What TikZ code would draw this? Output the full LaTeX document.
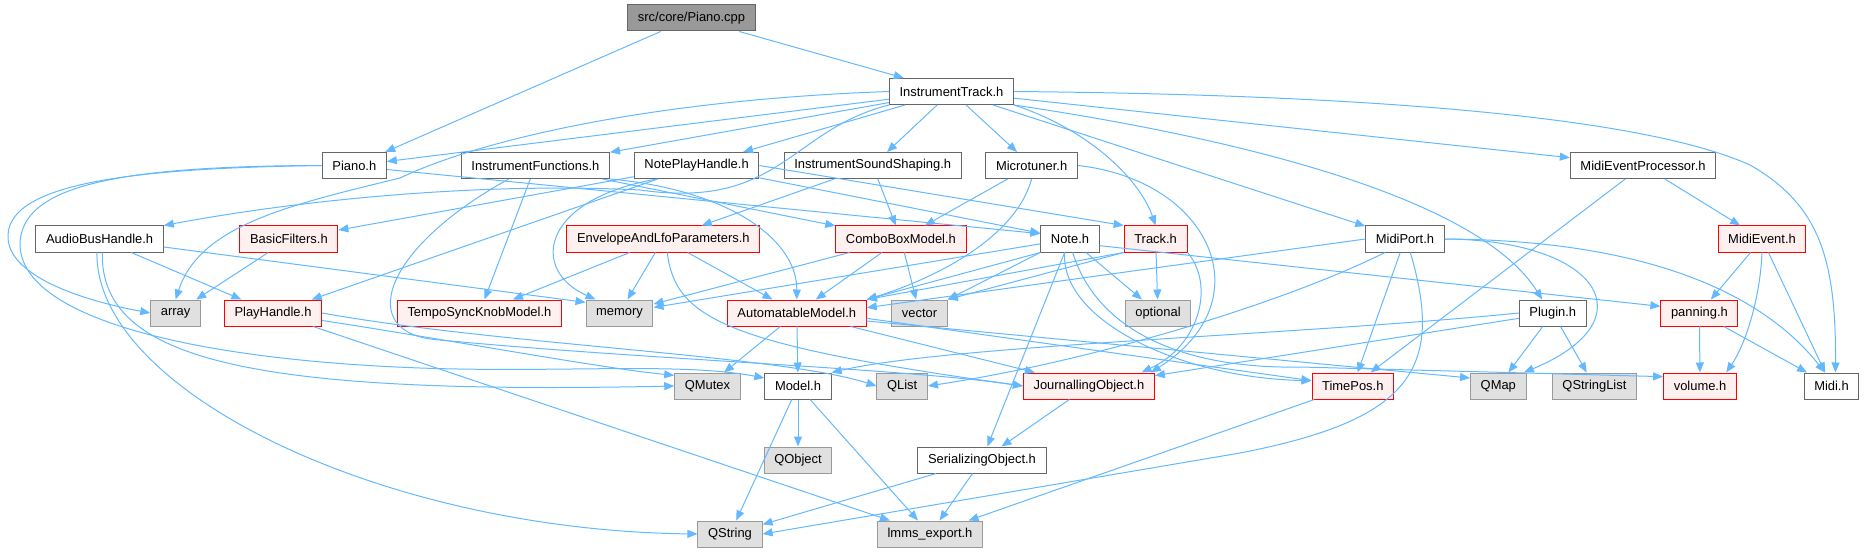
\documentclass[tikz,border=0pt]{standalone}
\usepackage{fontspec}
\setmainfont{Liberation Sans}
\usepackage{tikz}
\usetikzlibrary{arrows.meta}
\definecolor{edgeblue}{HTML}{63B8FF}
\definecolor{boxgray}{HTML}{666666}
\definecolor{sysfill}{HTML}{E0E0E0}
\definecolor{sysdraw}{HTML}{999999}
\definecolor{redfill}{HTML}{FFF0F0}
\definecolor{rootfill}{HTML}{999999}

\begin{document}
\begin{tikzpicture}[
    x=0.75pt, y=-0.75pt,
    font=\fontsize{9.7pt}{11pt}\selectfont,
    hnode/.style={draw=boxgray, fill=white, line width=0.75pt, minimum height=19.5pt, inner xsep=7.6pt, inner ysep=0pt},
    rnode/.style={hnode, draw=red, fill=redfill},
    snode/.style={hnode, draw=sysdraw, fill=sysfill},
    rootnode/.style={hnode, fill=rootfill},
    dep/.style={draw=edgeblue, line width=0.75pt, -{Triangle[length=7.5pt, width=6pt]}}
]
\useasboundingbox (0,0) rectangle (1865,552);

\node[rootnode] (cpp) at (691.5, 18) {src/core/Piano.cpp};
\node[hnode] (itrack) at (951.5, 91.5) {InstrumentTrack.h};
\node[hnode] (pianoh) at (354.3, 165.5) {Piano.h};
\node[hnode] (ifunc) at (535.4, 165.5) {InstrumentFunctions.h};
\node[hnode] (nph) at (696.6, 165.5) {NotePlayHandle.h};
\node[hnode] (iss) at (872.7, 165.5) {InstrumentSoundShaping.h};
\node[hnode] (micro) at (1031.6, 165.5) {Microtuner.h};
\node[hnode] (mep) at (1643, 165.5) {MidiEventProcessor.h};
\node[hnode] (abh) at (99.6, 239) {AudioBusHandle.h};
\node[rnode] (bfilt) at (288.9, 239) {BasicFilters.h};
\node[rnode] (envlfo) at (663.3, 239) {EnvelopeAndLfoParameters.h};
\node[rnode] (combo) at (900.9, 239) {ComboBoxModel.h};
\node[hnode] (note) at (1070, 239) {Note.h};
\node[rnode] (track) at (1155.6, 239) {Track.h};
\node[hnode] (mport) at (1405, 239) {MidiPort.h};
\node[rnode] (mevent) at (1762, 239) {MidiEvent.h};
\node[snode] (array) at (175.6, 313) {array};
\node[rnode] (playh) at (273, 313) {PlayHandle.h};
\node[rnode] (tsknob) at (479.4, 313) {TempoSyncKnobModel.h};
\node[snode] (memory) at (619.5, 313) {memory};
\node[rnode] (automod) at (796.8, 313) {AutomatableModel.h};
\node[snode] (vector) at (919.5, 313) {vector};
\node[snode] (optional) at (1158, 313) {optional};
\node[hnode] (plugin) at (1552.8, 313) {Plugin.h};
\node[rnode] (panning) at (1699.4, 313) {panning.h};
\node[snode] (qmutex) at (707.5, 386) {QMutex};
\node[hnode] (model) at (798, 386) {Model.h};
\node[snode] (qlist) at (902.2, 386) {QList};
\node[rnode] (jobj) at (1088.9, 386) {JournallingObject.h};
\node[rnode] (timepos) at (1352.8, 386) {TimePos.h};
\node[snode] (qmap) at (1498.3, 386) {QMap};
\node[snode] (qslist) at (1594.4, 386) {QStringList};
\node[rnode] (volume) at (1700, 386) {volume.h};
\node[hnode] (midi) at (1831.5, 386) {Midi.h};
\node[snode] (qobject) at (798, 460) {QObject};
\node[hnode] (sobj) at (982, 460) {SerializingObject.h};
\node[snode] (qstring) at (730, 534) {QString};
\node[snode] (lmmsexp) at (930, 534) {lmms\_export.h};

\draw[dep] (cpp) -- (pianoh);
\draw[dep] (cpp) -- (itrack);

\draw[dep] (itrack) -- (pianoh);
\draw[dep] (itrack) -- (ifunc);
\draw[dep] (itrack) -- (nph);
\draw[dep] (itrack) -- (iss);
\draw[dep] (itrack) -- (micro);
\draw[dep] (itrack.south east) .. controls (1090,130) and (1140,180) .. (track.north);
\draw[dep] (itrack) -- (mport);
\draw[dep] (itrack) -- (mep);
\draw[dep] (itrack.south east) .. controls (1250,140) and (1480,200) .. ([xshift=-8pt]plugin.north);
\draw[dep] (itrack.east) .. controls (1400,95) and (1650,120) .. (1750,165) .. controls (1820,205) and (1836,260) .. ([xshift=3pt]midi.north);
\draw[dep] (itrack.south west) .. controls (790,130) and (780,210) .. (640,190) .. controls (480,182) and (300,200) .. (abh.north east);
\draw[dep] (itrack.west) .. controls (650,100) and (480,140) .. (400,178) .. controls (290,205) and (200,225) .. (array.north);

\draw[dep] (pianoh.west) .. controls (150,168) and (10,180) .. (8,235) .. controls (6,275) and (80,300) .. (array.west);
\draw[dep] (pianoh.west) .. controls (120,166) and (20,185) .. (20,245) .. controls (22,320) and (200,360) .. (420,368) .. controls (560,373) and (680,362) .. ([yshift=6pt]model.west);
\draw[dep] ([yshift=-3pt]pianoh.east) -- ([yshift=4pt]note.west);

\draw[dep] (ifunc) -- (tsknob);
\draw[dep] (ifunc) -- (combo);
\draw[dep] (ifunc.south east) .. controls (730,190) and (797,240) .. (automod.north);
\draw[dep] ([xshift=-20pt]ifunc.south) .. controls (380,250) and (355,335) .. (440,340) .. controls (650,360) and (900,368) .. (jobj.west);

\draw[dep] (nph) -- (bfilt);
\draw[dep] (nph) -- (playh);
\draw[dep] ([xshift=-30pt]nph.south) .. controls (540,200) and (530,270) .. ([xshift=-18pt]memory.north);
\draw[dep] (nph) -- (note);
\draw[dep] (nph.east) -- (track.north west);

\draw[dep] (iss) -- (envlfo);
\draw[dep] (iss) -- (combo);

\draw[dep] (micro) -- (combo);
\draw[dep] (micro.south) .. controls (1015,240) and (930,280) .. (automod.north east);
\draw[dep] (micro.east) .. controls (1210,180) and (1265,300) .. ([xshift=-3pt]jobj.north east);

\draw[dep] (mep) -- (mevent);
\draw[dep] (mep) -- (timepos);

\draw[dep] (abh) -- (playh);
\draw[dep] ([yshift=-6pt]abh.east) -- ([yshift=8pt]memory.west);
\draw[dep] ([xshift=2pt]abh.south) .. controls (100,360) and (250,395) .. (qmutex.west);
\draw[dep] ([xshift=-2pt]abh.south) .. controls (95,390) and (380,530) .. (qstring.west);

\draw[dep] (bfilt) -- (array);

\draw[dep] (envlfo) -- (tsknob);
\draw[dep] (envlfo) -- (memory);
\draw[dep] (envlfo) -- (automod);
\draw[dep] ([xshift=3pt]envlfo.south) .. controls (675,320) and (730,345) .. (jobj.west);

\draw[dep] (combo) -- (automod);
\draw[dep] (combo) -- (vector);
\draw[dep] (combo) -- (memory);

\draw[dep] (note) -- (memory);
\draw[dep] (note.south west) -- (automod.north east);
\draw[dep] (note.south west) -- (vector.north east);
\draw[dep] (note) -- (optional);
\draw[dep] (note) -- (sobj);
\draw[dep] ([xshift=-4pt]note.south) .. controls (1060,320) and (1180,378) .. ([yshift=4pt]timepos.west);
\draw[dep] ([xshift=2pt]note.south) .. controls (1100,340) and (1200,369) .. (1300,367) -- ([yshift=7pt]volume.west);
\draw[dep] ([yshift=-5pt]note.east) -- ([yshift=5pt]panning.west);

\draw[dep] (track.south west) -- (automod.north east);
\draw[dep] (track.south west) -- (vector.north east);
\draw[dep] (track) -- (optional);
\draw[dep] (track.south east) .. controls (1215,285) and (1200,345) .. ([xshift=-10pt]jobj.north east);

\draw[dep] (mport.west) -- ([yshift=4pt]automod.east);
\draw[dep] ([xshift=-15pt]mport.south) .. controls (1290,300) and (1100,360) .. (qlist.east);
\draw[dep] (mport) -- (timepos);
\draw[dep] ([xshift=4pt]mport.south) .. controls (1445,370) and (1410,420) .. (1240,453) -- (qstring.east);
\draw[dep] (mport.east) .. controls (1600,240) and (1650,320) .. ([xshift=-2pt]qmap.north east);
\draw[dep] (mport.east) .. controls (1640,240) and (1760,290) .. ([xshift=-5pt]midi.north);

\draw[dep] (mevent) -- (panning);
\draw[dep] (mevent.south) .. controls (1760,300) and (1745,345) .. ([xshift=-8pt]volume.north east);
\draw[dep] (mevent) -- (midi);

\draw[dep] (playh) .. controls (450,340) and (600,368) .. ([yshift=8pt]qmutex.west);
\draw[dep] (playh.east) .. controls (500,345) and (780,355) .. (qlist.west);
\draw[dep] (playh) -- (lmmsexp);

\draw[dep] (automod) -- (qmutex);
\draw[dep] (automod) -- (model);
\draw[dep] (automod) -- (jobj);
\draw[dep] ([yshift=-4pt]automod.east) -- ([yshift=4pt]timepos.west);
\draw[dep] ([yshift=-6pt]automod.east) -- ([yshift=6pt]qmap.west);

\draw[dep] (plugin.west) .. controls (1300,335) and (950,345) .. (model.north east);
\draw[dep] (plugin) -- (jobj);
\draw[dep] (plugin) -- (qmap);
\draw[dep] (plugin) -- (qslist);

\draw[dep] (panning) -- (volume);
\draw[dep] (panning) -- (midi);

\draw[dep] (model) -- (qobject);
\draw[dep] (model) -- (qstring);
\draw[dep] (model) -- (lmmsexp);
\draw[dep] (jobj) -- (sobj);
\draw[dep] (timepos) -- (lmmsexp);
\draw[dep] (sobj) -- (qstring);
\draw[dep] (sobj) -- (lmmsexp);
\end{tikzpicture}
\end{document}
